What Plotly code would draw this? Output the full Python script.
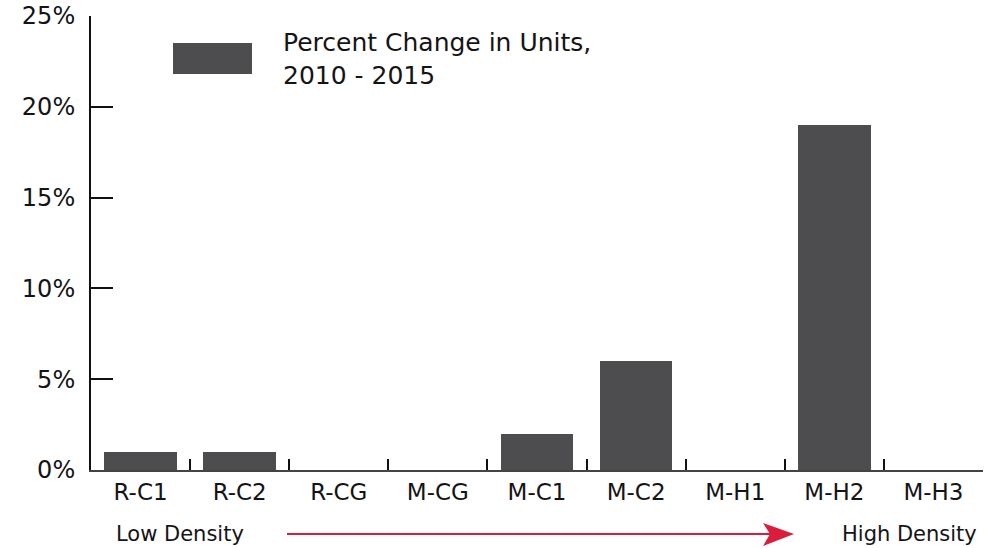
import plotly.graph_objects as go

categories = ["R-C1", "R-C2", "R-CG", "M-CG", "M-C1", "M-C2", "M-H1", "M-H2", "M-H3"]
pct_change = [1, 1, 0, 0, 2, 6, 0, 19, 0]
y_ticks = [0, 5, 10, 15, 20, 25]
y_tick_labels = ["0%", "5%", "10%", "15%", "20%", "25%"]
legend_label = "Percent Change in Units,<br>2010 - 2015"

BAR = "#4d4d4f"
FONT = "DejaVu Sans"
TXT = "#141414"
RED = "#d81e3a"

L, R, T, B = 91, 24, 16, 78
PW, PH = 1007 - L - R, 548 - T - B


def px(x):
    return (x - L) / PW


def py(y):
    return (548 - B - y) / PH


fig = go.Figure()
fig.add_trace(go.Bar(x=categories, y=pct_change, marker=dict(color=BAR, line=dict(width=0)),
                     width=0.73, showlegend=False, hoverinfo="skip"))

fig.update_layout(
    width=1007, height=548,
    margin=dict(l=L, r=R, t=T, b=B, autoexpand=False),
    paper_bgcolor="white", plot_bgcolor="white",
    font=dict(family=FONT, color=TXT),
    xaxis=dict(type="category", showline=True, linecolor="#444", linewidth=2,
               ticks="inside", ticklen=11, tickwidth=2, tickcolor="#111",
               tickson="boundaries", showgrid=False, tickfont=dict(size=23),
               ticklabelstandoff=0, range=[-0.5, 8.5], automargin=False),
    yaxis=dict(range=[0, 25], tickvals=y_ticks, ticktext=y_tick_labels,
               showline=True, linecolor="#111", linewidth=2,
               ticks="inside", ticklen=22, tickwidth=2, tickcolor="#111",
               showgrid=False, zeroline=False, tickfont=dict(size=24),
               ticklabelstandoff=9, automargin=False),
    bargap=0,
)

# manual legend
fig.add_shape(type="rect", xref="paper", yref="paper",
              x0=px(173), x1=px(252), y0=py(74), y1=py(43),
              fillcolor=BAR, line=dict(width=0))
fig.add_annotation(xref="paper", yref="paper", x=px(281), y=py(59),
                   text=legend_label, showarrow=False, xanchor="left", yanchor="middle",
                   align="left", font=dict(size=25, family=FONT, color=TXT))

# density arrow
ay = py(534)
fig.add_shape(type="line", xref="paper", yref="paper",
              x0=px(287), x1=px(772), y0=ay, y1=ay,
              line=dict(color=RED, width=2))
fig.add_shape(type="path", xref="paper", yref="paper",
              path=f"M {px(763)} {py(523)} L {px(794)} {ay} L {px(763)} {py(546)} L {px(770)} {ay} Z",
              fillcolor=RED, line=dict(width=0))
fig.add_annotation(xref="paper", yref="paper", x=px(180), y=ay,
                   text="Low Density", showarrow=False, xanchor="center", yanchor="middle",
                   font=dict(size=21, family=FONT, color=TXT))
fig.add_annotation(xref="paper", yref="paper", x=px(909), y=ay,
                   text="High Density", showarrow=False, xanchor="center", yanchor="middle",
                   font=dict(size=21, family=FONT, color=TXT))

fig.write_html("out.html", config={"displayModeBar": False},
               post_script="document.body.style.margin='0';document.body.style.overflow='hidden';")
